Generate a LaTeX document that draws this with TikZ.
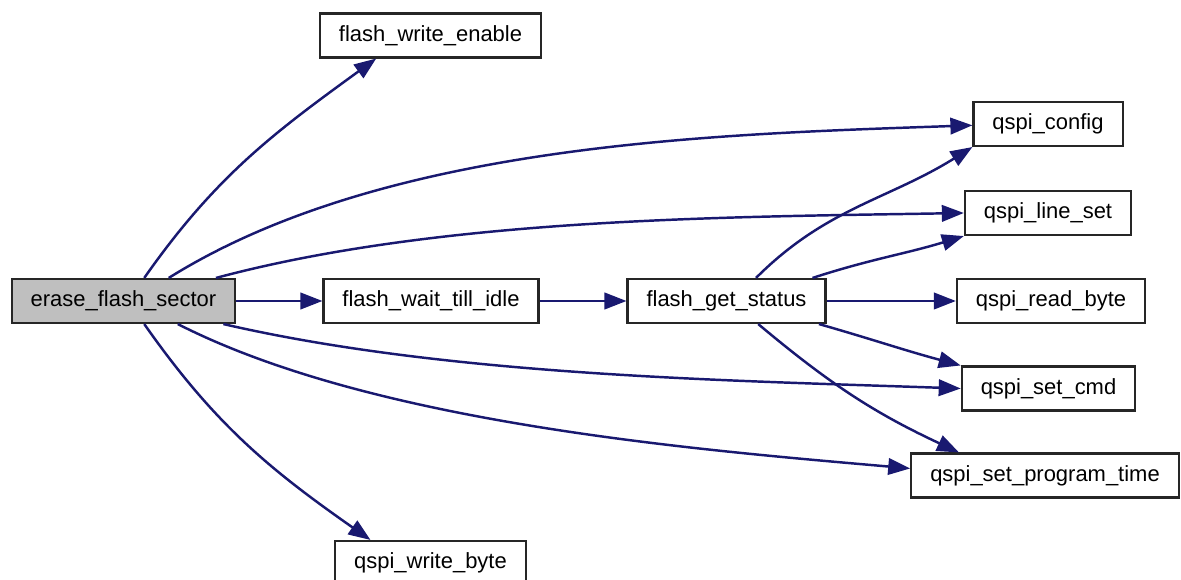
\documentclass[tikz,border=0pt]{standalone}
\usepackage{fontspec}
\setmainfont{Liberation Sans}
\usetikzlibrary{arrows.meta}
\definecolor{edgeblue}{HTML}{191970}
\definecolor{boxgrey}{HTML}{BFBFBF}

\begin{document}
\begin{tikzpicture}[->, >={Triangle[length=0.44cm,width=0.33cm]},
    x=0.02cm, y=0.02cm,
    every node/.style = {shape=rectangle, draw=black!85, line width=1.2pt,
    fill=white, minimum height=0.88cm, inner xsep=0.38cm,
    font=\fontsize{12.5}{15}\selectfont},
    cgrey/.style={fill=boxgrey},
    every edge/.style={draw, edgeblue, line width=1.4pt}]
    \useasboundingbox (0,0) rectangle (1181,-580);
    \node[cgrey] (1) at (123.5,-301) {erase\_flash\_sector};
    \node (2) at (430.5,-35.5) {flash\_write\_enable};
    \node (3) at (431,-301) {flash\_wait\_till\_idle};
    \node (4) at (726.5,-301) {flash\_get\_status};
    \node (5) at (1048,-124) {qspi\_config};
    \node (6) at (1048,-213) {qspi\_line\_set};
    \node (7) at (1051,-301) {qspi\_read\_byte};
    \node (8) at (1048.5,-388.5) {qspi\_set\_cmd};
    \node (9) at (1045,-475.5) {qspi\_set\_program\_time};
    \node (10) at (430.5,-563) {qspi\_write\_byte};
    \path
        (1) edge (3)
        (3) edge (4)
        (4) edge (7)
        (1.48) edge[out=55, in=216] (2.203)
        (1.27) edge[out=32, in=182, looseness=0.8] (5.181)
        (1.14) edge[out=15, in=181, looseness=0.8] (6.west)
        (1.-13) edge[out=-13, in=178, looseness=0.8] (8.west)
        (1.-23) edge[out=-27, in=175, looseness=0.75] (9.177)
        (1.-48) edge[out=-55, in=145] (10.159)
        (4.38) edge[out=45, in=212] (5.south west)
        (4.15) edge[out=18, in=197] (6.south west)
        (4.-14) edge[out=-16, in=165] (8.north west)
        (4.-36) edge[out=-40, in=155] (9.165);
\end{tikzpicture}
\end{document}
